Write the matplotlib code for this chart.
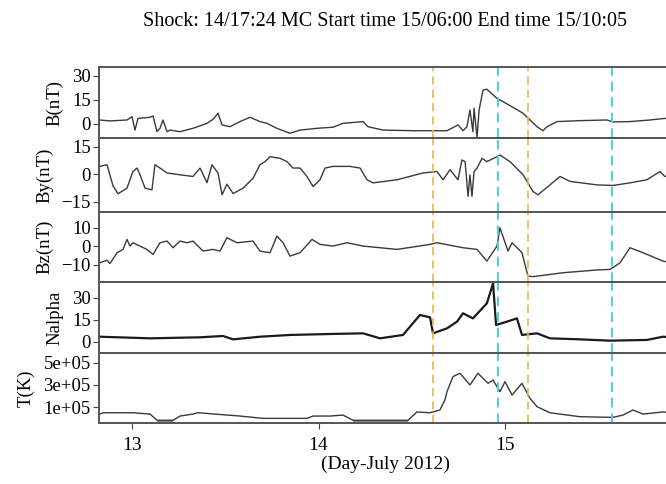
import numpy as np
import matplotlib
matplotlib.use("Agg")
import matplotlib.pyplot as plt
from matplotlib.ticker import FuncFormatter

plt.rcParams['font.family'] = ['Liberation Serif', 'DejaVu Serif']

# --- data (day of July 2012, value) ---
b_pts = [(12.828, 2.5), (12.882, 1.9), (12.973, 2.5), (13.000, 4.6), (13.016, -3.8),
         (13.032, 3.5), (13.097, 4.2), (13.113, 5.0), (13.134, -4.8), (13.150, -2.7),
         (13.166, 2.5), (13.188, -4.8), (13.204, -3.8), (13.257, -4.8), (13.327, -2.7),
         (13.402, 0.4), (13.434, 2.9), (13.461, 6.7), (13.483, -0.6), (13.525, -1.7),
         (13.579, 1.5), (13.633, 4.2), (13.686, 1.5), (13.724, 0.4), (13.777, -2.7),
         (13.847, -5.8), (13.901, -3.8), (13.992, -2.7), (14.078, -2.0), (14.131, 0.4),
         (14.239, 1.5), (14.265, -1.7), (14.346, -3.8), (14.507, -4.2), (14.689, -4.2),
         (14.748, -0.6), (14.775, -4.2), (14.796, -1.7), (14.812, 8.7), (14.828, -4.8),
         (14.834, 9.8), (14.850, -8.3), (14.861, 8.7), (14.882, 21.2), (14.903, 21.7),
         (14.957, 16.0), (14.989, 14.0), (15.097, 6.7), (15.134, 2.5), (15.172, -1.7),
         (15.204, -4.2), (15.225, -1.7), (15.279, 1.5), (15.402, 2.1), (15.547, 2.5),
         (15.579, 1.3), (15.670, 1.5), (15.777, 2.5), (15.857, 3.5), (15.900, 3.0)]

by_pts = [(12.828, 4.4), (12.866, 5.3), (12.898, -6.2), (12.925, -10.5), (12.973, -7.5),
          (13.005, 1.6), (13.027, 3.5), (13.043, -0.2), (13.070, -7.5), (13.107, -8.4),
          (13.123, 5.3), (13.150, 3.5), (13.188, 0.8), (13.257, -0.2), (13.327, -1.1),
          (13.365, 3.5), (13.402, -4.5), (13.429, 5.3), (13.461, 0.8), (13.483, -11.1),
          (13.509, -5.3), (13.542, -10.4), (13.595, -7.5), (13.649, -2.1), (13.686, 5.3),
          (13.713, 7.0), (13.740, 9.7), (13.794, 8.8), (13.831, 7.0), (13.863, 3.5),
          (13.901, 3.5), (13.938, -1.1), (13.971, -6.6), (14.008, -2.9), (14.035, 3.5),
          (14.078, 4.4), (14.169, 4.4), (14.223, 3.5), (14.260, -2.9), (14.292, -4.6),
          (14.421, -2.9), (14.560, 0.8), (14.635, 1.6), (14.668, -2.9), (14.705, 2.6),
          (14.748, -2.9), (14.769, 7.9), (14.786, 7.0), (14.802, -12.0), (14.812, -0.2),
          (14.823, -12.0), (14.834, 1.6), (14.850, 3.5), (14.877, 8.8), (14.903, 7.0),
          (14.957, 9.7), (14.973, 10.6), (15.027, 7.0), (15.097, -0.2), (15.150, -9.3),
          (15.177, -11.1), (15.241, -5.7), (15.295, -1.1), (15.349, -3.8), (15.493, -5.7),
          (15.579, -6.0), (15.670, -4.6), (15.761, -2.9), (15.831, 1.6), (15.857, -1.1),
          (15.900, -0.5)]

bz_pts = [(12.828, -8.8), (12.866, -7.4), (12.882, -9.2), (12.920, -3.4), (12.952, -1.6),
          (12.973, 3.8), (12.989, 0.2), (13.005, 2.0), (13.080, -1.6), (13.113, -4.3),
          (13.150, 2.0), (13.188, 2.9), (13.220, -0.7), (13.257, 2.9), (13.295, 2.0),
          (13.327, 2.9), (13.381, -2.5), (13.434, -1.6), (13.472, -2.5), (13.509, 4.7),
          (13.563, 2.0), (13.649, 2.9), (13.686, -2.5), (13.740, -3.4), (13.777, 5.6),
          (13.810, 2.0), (13.847, -5.2), (13.901, -3.4), (13.965, 3.8), (14.008, 1.1),
          (14.078, 0.2), (14.153, 2.0), (14.239, 0.2), (14.421, -1.6), (14.598, 1.1),
          (14.635, 2.0), (14.775, -0.7), (14.850, -1.6), (14.903, -7.9), (14.957, 0.2),
          (14.973, 10.1), (15.016, -2.5), (15.038, 2.0), (15.091, -3.4), (15.123, -16.0),
          (15.150, -16.3), (15.311, -14.2), (15.493, -12.7), (15.563, -12.4), (15.617, -8.8),
          (15.670, -0.7), (15.740, -3.4), (15.847, -7.9), (15.900, -9.0)]

na_pts = [(12.828, 3.6), (13.097, 2.5), (13.365, 3.2), (13.488, 4.1), (13.542, 1.8),
          (13.686, 3.6), (13.847, 4.8), (14.078, 5.5), (14.239, 5.9),
          (14.330, 2.5), (14.453, 4.8), (14.491, 10.5), (14.544, 18.4), (14.598, 16.8),
          (14.614, 5.9), (14.689, 9.3), (14.743, 13.9), (14.775, 19.6), (14.828, 16.1),
          (14.903, 26.4), (14.936, 40.0), (14.952, 11.6), (15.011, 13.9), (15.064, 16.1),
          (15.091, 4.8), (15.172, 5.9), (15.241, 2.5), (15.402, 1.8), (15.563, 0.9),
          (15.761, 1.4), (15.847, 3.6), (15.900, 3.2)]

# temperature in units of 1e5 K
t_pts = [(12.828, 0.36), (12.845, 0.48), (13.005, 0.48), (13.097, 0.36), (13.134, -0.2),
         (13.220, -0.2), (13.257, 0.18), (13.327, 0.36), (13.354, 0.48), (13.579, 0.18),
         (13.702, -0.03), (13.938, -0.03), (13.971, 0.18), (14.062, 0.18), (14.131, 0.27),
         (14.185, -0.2), (14.480, -0.2), (14.528, 0.55), (14.598, 0.48), (14.651, 0.73),
         (14.678, 1.64), (14.689, 2.39), (14.721, 3.76), (14.759, 4.06), (14.812, 3.0),
         (14.855, 4.06), (14.909, 3.15), (14.936, 3.45), (14.973, 2.39), (15.000, 3.3),
         (15.038, 2.09), (15.091, 3.15), (15.134, 1.79), (15.172, 1.03), (15.241, 0.48),
         (15.402, 0.12), (15.579, 0.06), (15.633, 0.27), (15.686, 0.73), (15.740, 0.36),
         (15.847, 0.55), (15.900, 0.5)]

orange_days = [14.614, 15.123]
cyan_days = [14.962, 15.574]
x_ticks = [13, 14, 15]
title = "Shock: 14/17:24 MC Start time 15/06:00 End time 15/10:05"

panels = [
    (b_pts, "B(nT)", [0, 15, 30], (-8.75, 35.6), 1.0),
    (by_pts, "By(nT)", [-15, 0, 15], (-20.5, 19.9), 1.0),
    (bz_pts, "Bz(nT)", [-10, 0, 10], (-19.2, 18.6), 1.0),
    (na_pts, "Nalpha", [0, 15, 30], (-7.5, 40.9), 1.0),
    (t_pts, "T(K)", [1e5, 3e5, 5e5], (-0.45e5, 5.9e5), 1e5),
]

W, H = 666, 484
fig = plt.figure(figsize=(W / 100, H / 100), dpi=100)
tops = [67, 138, 212, 282, 353, 423]
left, right = 99, 672
xlim = (13 + (left - 132) / 186.5, 13 + (right - 132) / 186.5)

for i, (pts, lab, ticks, ylim, scale) in enumerate(panels):
    y0 = 1 - tops[i + 1] / H
    hh = (tops[i + 1] - tops[i]) / H
    ax = fig.add_axes([left / W, y0, (right - left) / W, hh])
    d = np.array([p[0] for p in pts])
    v = np.array([p[1] for p in pts]) * scale
    lw, col = (1.6, '#1a1a1a') if lab == "Nalpha" else (1.0, '#3a3a3a')
    ax.plot(d, v, color=col, lw=lw)
    if lab == "T(K)":
        ax.fill_between(d, v, ylim[0], where=v < -0.1e5, color='#8a8a8a', lw=0)
    for xd in orange_days:
        ax.axvline(xd, color='#ecb54e', ls=(0, (5, 3)), lw=1.2)
    for xd in cyan_days:
        ax.axvline(xd, color='#45d3dc', ls=(0, (5, 3)), lw=1.4)
    ax.set_xlim(xlim)
    ax.set_ylim(ylim)
    ax.set_yticks(ticks)
    if lab == "T(K)":
        ax.yaxis.set_major_formatter(FuncFormatter(lambda t, p: "%.0e" % t))
    ax.set_ylabel(lab, fontsize=13.5, labelpad=6)
    ax.tick_params(axis='y', direction='out', length=4, labelsize=13.5, pad=2,
                   right=False, color='#444')
    for s in ax.spines.values():
        s.set_linewidth(1.4)
        s.set_color('#555555')
    if i < 4:
        ax.tick_params(axis='x', bottom=False, labelbottom=False)
    else:
        ax.set_xticks(x_ticks)
        ax.tick_params(axis='x', direction='out', length=4, labelsize=14, pad=6,
                       color='#444')
        ax.set_xlabel("(Day-July 2012)", fontsize=14)
        ax.xaxis.set_label_coords(0.5, -0.46)

fig.text(385 / W, 1 - 22 / H, title, ha='center', va='center', fontsize=14.5)
fig.savefig("out.png", dpi=100)
